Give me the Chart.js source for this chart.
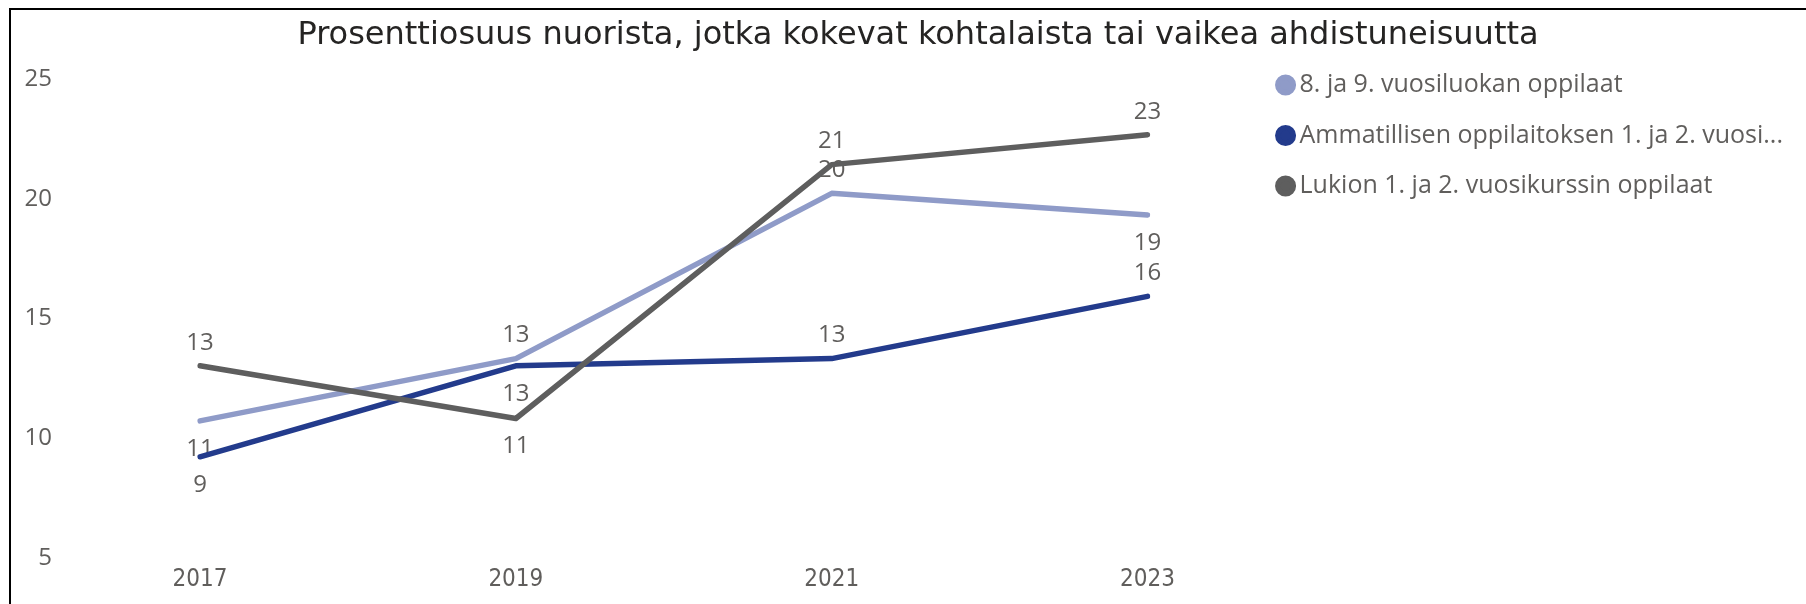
<!DOCTYPE html>
<html><head><meta charset="utf-8">
<script src="https://cdn.jsdelivr.net/npm/chart.js@4.4.1/dist/chart.umd.min.js"></script>
<style>
html,body{margin:0;padding:0;background:#fff;}
#wrap{position:relative;width:1806px;height:604px;overflow:hidden;background:#fff;}
#c{position:absolute;left:0;top:0;}
#frame{position:absolute;left:9px;top:8px;right:-10px;bottom:-10px;border-top:2px solid #000;border-left:2px solid #000;pointer-events:none;}
</style></head><body>
<div id="wrap"><canvas id="c" width="1806" height="604"></canvas><div id="frame"></div></div>
<script>
const chartTitle = 'Prosenttiosuus nuorista, jotka kokevat kohtalaista tai vaikea ahdistuneisuutta';
const years = ['2017', '2019', '2021', '2023'];
const seriesNames = [
  '8. ja 9. vuosiluokan oppilaat',
  'Ammatillisen oppilaitoksen 1. ja 2. vuosi...',
  'Lukion 1. ja 2. vuosikurssin oppilaat'
];
const grade89 = [10.6, 13.2, 20.1, 19.2];
const vocational = [9.1, 12.9, 13.2, 15.8];
const upperSecondary = [12.9, 10.7, 21.3, 22.55];
const yTicks = [5, 10, 15, 20, 25];
const labelPlacement = [
  ['below', 'above', 'above', 'below'],
  ['below', 'below', 'above', 'above'],
  ['above', 'below', 'above', 'above']
];

const TEXT = '#605E5C';
const SEG = '"Open Sans", "Noto Sans", sans-serif';
const COND = '"DejaVu Sans Condensed", "DejaVu Sans", sans-serif';

const pointLabels = {
  id: 'pointLabels',
  beforeDatasetsDraw(chart) {
    const ctx = chart.ctx;
    ctx.save();
    ctx.font = '24px ' + SEG;
    ctx.fillStyle = TEXT;
    ctx.textAlign = 'center';
    ctx.textBaseline = 'middle';
    chart.data.datasets.forEach((ds, di) => {
      const meta = chart.getDatasetMeta(di);
      meta.data.forEach((pt, i) => {
        const up = labelPlacement[di][i] === 'above';
        const y = up ? pt.y - 23 : pt.y + 28;
        ctx.fillText(String(Math.round(ds.data[i])), pt.x, y);
      });
    });
    ctx.restore();
  }
};

function series(label, data, color, order) {
  return {
    label, data, borderColor: color, backgroundColor: color,
    borderWidth: 5.5, pointRadius: 0, pointHoverRadius: 0,
    borderCapStyle: 'round', borderJoinStyle: 'round', tension: 0, order
  };
}

const blankAxis = (position, width, weight) => ({
  type: 'linear', position, display: true, weight,
  grid: { display: false, drawTicks: false },
  border: { display: false },
  ticks: { display: false },
  afterFit: s => { s.width = width; }
});

new Chart(document.getElementById('c'), {
  type: 'line',
  data: {
    labels: years,
    datasets: [
      series(seriesNames[0], grade89, '#8F9BC8', 3),
      series(seriesNames[1], vocational, '#233B8C', 2),
      series(seriesNames[2], upperSecondary, '#5E5E5E', 1)
    ]
  },
  options: {
    responsive: false,
    devicePixelRatio: 1,
    animation: false,
    events: [],
    layout: { padding: { left: 43, right: 13, top: 0, bottom: 0 } },
    scales: {
      x: {
        offset: false,
        grid: { display: false, drawTicks: false },
        border: { display: false },
        ticks: { padding: 10, color: TEXT, font: { family: COND, size: 24 }, maxRotation: 0, autoSkip: false },
        afterFit: s => { s.height = 49; }
      },
      y: {
        min: 5, max: 25, weight: 1,
        afterBuildTicks: s => { s.ticks = yTicks.map(v => ({ value: v })); },
        afterFit: s => { s.width = 17; },
        grid: { display: false, drawTicks: false },
        border: { display: false },
        ticks: { mirror: true, crossAlign: 'far', padding: -35.5, labelOffset: 3, color: TEXT, font: { family: SEG, size: 24 } }
      },
      gapLeft: blankAxis('left', 140, 0),
      gapRight: blankAxis('right', 111, 0)
    },
    plugins: {
      tooltip: { enabled: false },
      title: {
        display: true, text: chartTitle, color: '#252423',
        font: { family: '"DejaVu Sans", sans-serif', size: 32, weight: 'normal', lineHeight: 1.2 },
        padding: { top: 16, bottom: 21.6 }
      },
      legend: {
        position: 'right', align: 'start', maxWidth: 560,
        title: { display: true, text: '', font: { size: 10, lineHeight: 1 }, padding: { top: 37, bottom: 0 } },
        labels: {
          usePointStyle: true, pointStyle: 'circle', boxWidth: 3, boxHeight: 11,
          padding: 25.5, color: TEXT, font: { family: SEG, size: 25 },
          sort: (a, b) => a.datasetIndex - b.datasetIndex
        }
      }
    }
  },
  plugins: [pointLabels]
});
</script>
</body></html>
